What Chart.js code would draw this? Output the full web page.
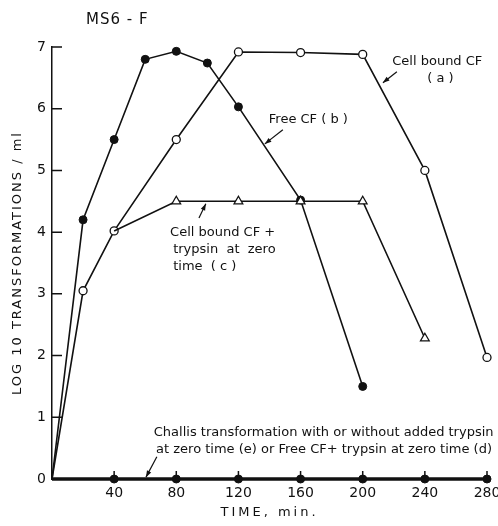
<!DOCTYPE html>
<html>
<head>
<meta charset="utf-8">
<script src="https://cdn.jsdelivr.net/npm/chart.js@4/dist/chart.umd.min.js"></script>
<style>
  html, body { margin: 0; padding: 0; background: #fff; }
  #wrap { width: 498px; height: 526px; }
</style>
</head>
<body>
<div id="wrap"><canvas id="myChart"></canvas></div>
<script>
// values (log10 transformations / ml vs time, min)
const freeCfTime = [0, 20, 40, 60, 80, 100, 120, 160, 200];
const freeCfLog = [0, 4.2, 5.5, 6.8, 6.93, 6.74, 6.03, 4.52, 1.5];

const cellCfTime = [0, 20, 40, 80, 120, 160, 200, 240, 280];
const cellCfLog = [0, 3.05, 4.02, 5.5, 6.92, 6.91, 6.88, 5.0, 1.97];

const trypsinTime = [40, 80, 120, 160, 200, 240];
const trypsinLog = [4.02, 4.5, 4.5, 4.5, 4.5, 2.28];

const controlTime = [0, 40, 80, 120, 160, 200, 240, 280];
const controlLog = [0, 0, 0, 0, 0, 0, 0, 0];

const xTickValues = [40, 80, 120, 160, 200, 240, 280];
const yTickValues = [0, 1, 2, 3, 4, 5, 6, 7];

const FONT = "'DejaVu Sans', sans-serif";

const toPoints = (xs, ys) => xs.map((x, i) => ({ x: x, y: ys[i] }));

// text notes placed in data units
const notes = [
  { text: 'MS6 - F', x: 42, y: 7.44, align: 'center', size: 15, spacing: 1 },
  { text: 'Cell bound CF', x: 248, y: 6.76, align: 'center' },
  { text: '( a )', x: 250, y: 6.48, align: 'center' },
  { text: 'Free CF ( b )', x: 165, y: 5.82, align: 'center' },
  { text: 'Cell bound CF +', x: 76, y: 3.99, align: 'left' },
  { text: 'trypsin  at  zero', x: 78, y: 3.71, align: 'left' },
  { text: 'time  ( c )', x: 78, y: 3.44, align: 'left' },
  { text: 'Challis transformation with or without added trypsin', x: 65.5, y: 0.745, align: 'left' },
  { text: 'at zero time (e) or Free CF+ trypsin at zero time (d)', x: 67, y: 0.47, align: 'left' }
];
const arrows = [
  { from: [222, 6.6], to: [213, 6.42] },
  { from: [148.6, 5.66], to: [137, 5.43] },
  { from: [94.6, 4.23], to: [99, 4.46] },
  { from: [67.5, 0.36], to: [60.5, 0.03] }
];

const extras = {
  id: 'extras',
  afterDatasetsDraw(chart) {
    const ctx = chart.ctx;
    const xs = chart.scales.x, ys = chart.scales.y;
    ctx.save();
    ctx.strokeStyle = '#111';
    ctx.fillStyle = '#111';
    // inward tick marks
    ctx.lineWidth = 1.5;
    ctx.beginPath();
    xTickValues.forEach(v => {
      const px = xs.getPixelForValue(v);
      ctx.moveTo(px, ys.bottom);
      ctx.lineTo(px, ys.bottom - 8);
    });
    yTickValues.forEach(v => {
      const py = ys.getPixelForValue(v);
      ctx.moveTo(xs.left, py);
      ctx.lineTo(xs.left + 10, py);
    });
    ctx.stroke();
    // notes
    ctx.textBaseline = 'middle';
    notes.forEach(n => {
      ctx.font = (n.size || 13) + 'px ' + FONT;
      ctx.letterSpacing = (n.spacing || 0) + 'px';
      ctx.textAlign = n.align;
      ctx.fillText(n.text, xs.getPixelForValue(n.x), ys.getPixelForValue(n.y));
    });
    // axis titles, letter-spaced like the original lettering
    ctx.font = '13px ' + FONT;
    ctx.letterSpacing = '3px';
    ctx.textAlign = 'center';
    ctx.fillText('TIME, min.', (xs.left + xs.right) / 2, 513);
    ctx.save();
    ctx.translate(18, (ys.top + ys.bottom) / 2);
    ctx.rotate(-Math.PI / 2);
    ctx.letterSpacing = '2px';
    ctx.fillText('LOG 10 TRANSFORMATIONS / ml', 0, 0);
    ctx.restore();
    ctx.letterSpacing = '0px';
    // arrows
    ctx.lineWidth = 1.2;
    arrows.forEach(a => {
      const x1 = xs.getPixelForValue(a.from[0]), y1 = ys.getPixelForValue(a.from[1]);
      const x2 = xs.getPixelForValue(a.to[0]), y2 = ys.getPixelForValue(a.to[1]);
      ctx.beginPath();
      ctx.moveTo(x1, y1);
      ctx.lineTo(x2, y2);
      ctx.stroke();
      const ang = Math.atan2(y2 - y1, x2 - x1);
      ctx.beginPath();
      ctx.moveTo(x2, y2);
      ctx.lineTo(x2 - 7 * Math.cos(ang - 0.35), y2 - 7 * Math.sin(ang - 0.35));
      ctx.lineTo(x2 - 7 * Math.cos(ang + 0.35), y2 - 7 * Math.sin(ang + 0.35));
      ctx.closePath();
      ctx.fill();
    });
    ctx.restore();
  }
};

const data = {
  datasets: [
    {
      label: 'Challis / Free CF + trypsin',
      data: toPoints(controlTime, controlLog),
      borderColor: '#111',
      borderWidth: 3.5,
      backgroundColor: '#111',
      pointRadius: controlTime.map(t => t === 0 ? 0 : 4),
      pointBorderWidth: 1
    },
    {
      label: 'Cell bound CF + trypsin (c)',
      data: toPoints(trypsinTime, trypsinLog),
      borderColor: '#111',
      borderWidth: 1.6,
      backgroundColor: '#fff',
      pointStyle: 'triangle',
      pointRadius: trypsinTime.map((t, i) => i === 0 ? 0 : 5),
      pointBorderWidth: 1.3
    },
    {
      label: 'Cell bound CF (a)',
      data: toPoints(cellCfTime, cellCfLog),
      borderColor: '#111',
      borderWidth: 1.6,
      backgroundColor: '#fff',
      pointRadius: cellCfTime.map(t => t === 0 ? 0 : 4),
      pointBorderWidth: 1.3
    },
    {
      label: 'Free CF (b)',
      data: toPoints(freeCfTime, freeCfLog),
      borderColor: '#111',
      borderWidth: 1.6,
      backgroundColor: '#111',
      pointRadius: freeCfTime.map(t => t === 0 ? 0 : 4),
      pointBorderWidth: 1
    }
  ]
};

const config = {
  type: 'line',
  data: data,
  plugins: [extras],
  options: {
    responsive: true,
    maintainAspectRatio: false,
    animation: false,
    layout: { autoPadding: false, padding: { top: 47, right: 11, left: 0, bottom: 0 } },
    elements: { line: { fill: false, tension: 0 }, point: { hoverRadius: 4 } },
    datasets: { line: { clip: false } },
    plugins: { legend: { display: false }, tooltip: { enabled: false } },
    scales: {
      x: {
        type: 'linear',
        min: 0,
        max: 280,
        afterFit(scale) {
          scale.height = 47;
          scale.paddingLeft = 0;
          scale.paddingRight = 0;
        },
        afterBuildTicks(scale) { scale.ticks = xTickValues.map(v => ({ value: v })); },
        grid: { display: false, drawTicks: false },
        border: { display: true, color: '#111', width: 1.5 },
        ticks: { color: '#111', padding: 6, font: { size: 14, family: FONT } }
      },
      y: {
        min: 0,
        max: 7,
        afterFit(scale) {
          scale.width = 52;
          scale.paddingTop = 0;
          scale.paddingBottom = 0;
        },
        afterBuildTicks(scale) { scale.ticks = yTickValues.map(v => ({ value: v })); },
        grid: { display: false, drawTicks: false },
        border: { display: true, color: '#111', width: 1.5 },
        ticks: { color: '#111', padding: 6, font: { size: 14, family: FONT } }
      }
    }
  }
};

new Chart(document.getElementById('myChart'), config);
</script>
</body>
</html>
